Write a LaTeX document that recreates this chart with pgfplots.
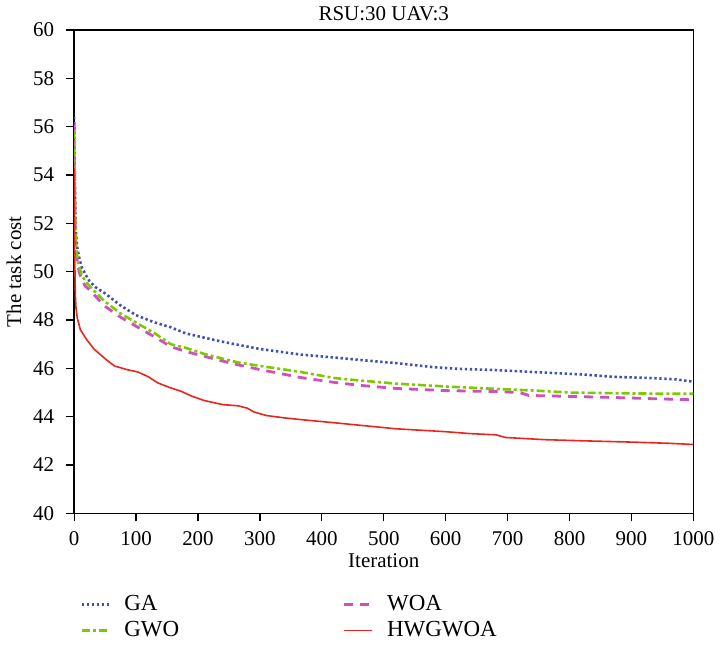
\documentclass[border=0pt]{standalone}
\usepackage{fontspec}
\setmainfont{Liberation Serif}
\usepackage{pgfplots}
\pgfplotsset{compat=1.18}

\definecolor{gaBlue}{HTML}{3F4FB5}
\definecolor{gwoGreen}{HTML}{7DC800}
\definecolor{woaPink}{HTML}{D04FC0}
\definecolor{hwRed}{HTML}{E8261E}

\begin{document}
\begin{tikzpicture}
\begin{axis}[
  scale only axis,
  width=310pt, height=242pt,
  xmin=0, xmax=1000, ymin=40, ymax=60,
  xtick={0,100,...,1000},
  ytick={40,42,...,60},
  tick align=outside,
  xtick pos=bottom, ytick pos=left,
  major tick length=4pt,
  axis line style={line width=0.8pt},
  every tick/.style={black, line width=0.6pt},
  font=\fontsize{10.5}{12}\selectfont,
  /pgf/number format/assume math mode=true,
  /pgf/number format/1000 sep={},
  yticklabel style={xshift=-2.5pt},
  xticklabel style={yshift=-1.5pt},
  title={RSU:30 UAV:3},
  title style={yshift=-5pt},
  xlabel={Iteration},
  ylabel={The task cost},
  xlabel style={yshift=3pt},
  ylabel style={yshift=-1pt},
  legend columns=2,
  legend cell align=left,
  legend image post style={xscale=0.8},
  legend style={at={(0,-0.152)}, anchor=north west, draw=none,
    font=\fontsize{11.5}{13}\selectfont,
    /tikz/every odd column/.append style={column sep=5pt},
    /tikz/every even column/.append style={column sep=80pt},
    row sep=0pt},
]
\addplot[gaBlue, line width=1.3pt, dash pattern=on 1.2pt off 1.3pt] coordinates {
(0,56.4)(1,54)(2,52.5)(3,51.6)(5,51)(8,50.6)(12,50.2)(18,49.9)(25,49.6)(35,49.35)
(50,49.1)(75,48.6)(100,48.2)(130,47.9)(156,47.7)(180,47.45)(210,47.27)(240,47.1)
(264,46.98)(300,46.8)(366,46.57)(420,46.45)(460,46.35)(519,46.22)(580,46.05)
(620,45.98)(681,45.93)(740,45.85)(826,45.74)(870,45.65)(930,45.6)(970,45.55)(1000,45.45)
};
\addlegendentry{GA}
\addplot[woaPink, line width=1.4pt, dash pattern=on 4.5pt off 3.5pt] coordinates {
(0,56.1)(1,53.2)(2,51.8)(3,51.0)(5,50.4)(8,50.0)(12,49.7)(18,49.4)(27,49.2)(48,48.6)
(76,48.1)(103,47.7)(130,47.3)(156,46.9)(180,46.7)(210,46.5)(240,46.3)(264,46.15)
(300,45.95)(366,45.62)(420,45.42)(460,45.3)(519,45.17)(600,45.08)(681,45.04)(720,45.0)
(734,44.88)(800,44.84)(879,44.79)(940,44.74)(1000,44.7)
};
\addlegendentry{WOA}
\addplot[gwoGreen, line width=1.3pt, dash pattern=on 4pt off 1.5pt on 1.5pt off 1.5pt] coordinates {
(0,55.8)(1,53.5)(2,52)(3,51.2)(5,50.6)(8,50.2)(12,49.9)(18,49.6)(27,49.35)(48,48.8)
(76,48.25)(103,47.85)(130,47.45)(156,47.0)(180,46.85)(210,46.6)(240,46.4)(264,46.25)
(300,46.1)(340,45.95)(366,45.85)(420,45.6)(460,45.5)(519,45.37)(600,45.25)(681,45.15)
(745,45.08)(800,45.0)(906,44.96)(1000,44.95)
};
\addlegendentry{GWO}
\addplot[hwRed, line width=0.8pt] coordinates {
(0,54.3)(1,50.5)(2,49)(3,48.5)(5,48.1)(10,47.6)(20,47.2)(32,46.8)(50,46.4)(65,46.1)
(85,45.95)(103,45.85)(120,45.65)(135,45.4)(155,45.2)(173,45.05)(190,44.85)(210,44.67)
(240,44.5)(265,44.45)(280,44.35)(290,44.2)(310,44.05)(340,43.95)(366,43.88)(420,43.75)
(480,43.6)(520,43.5)(600,43.38)(640,43.3)(681,43.25)(697,43.14)(760,43.05)(826,43.0)
(900,42.95)(960,42.9)(1000,42.85)
};
\addlegendentry{HWGWOA}
\end{axis}
\end{tikzpicture}
\end{document}
